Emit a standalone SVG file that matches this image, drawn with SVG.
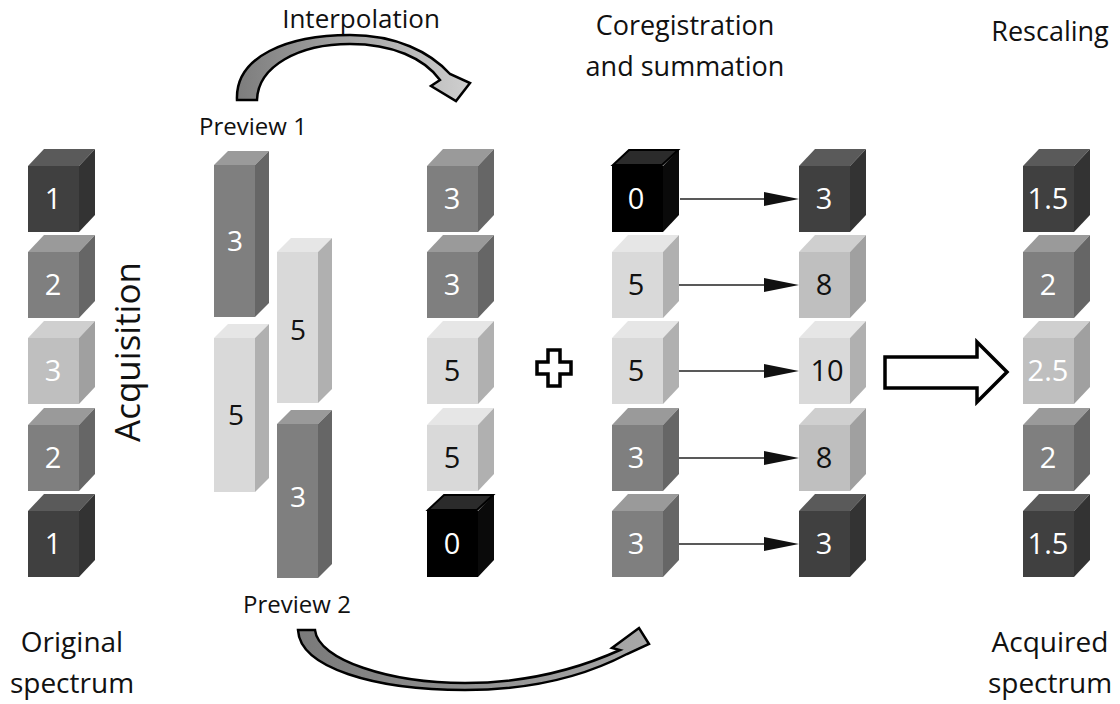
<svg xmlns="http://www.w3.org/2000/svg" width="1120" height="704" viewBox="0 0 1120 704">
<defs>
<style>
.lbl{font-family:"Open Sans","Liberation Sans",sans-serif;fill:#111}
.num{font-family:"Open Sans","Liberation Sans",sans-serif;font-size:29px;text-anchor:middle}
.bnum{font-family:"Open Sans","Liberation Sans",sans-serif;font-size:28px;text-anchor:middle}
.w{fill:#fff}.b{fill:#111}
.dk .f{fill:#404040}.dk .t{fill:#5a5a5a}.dk .r{fill:#333}
.md .f{fill:#7f7f7f}.md .t{fill:#9a9a9a}.md .r{fill:#666}
.lt .f{fill:#bfbfbf}.lt .t{fill:#cfcfcf}.lt .r{fill:#a0a0a0}
.vl .f{fill:#d9d9d9}.vl .t{fill:#e6e6e6}.vl .r{fill:#b0b0b0}
.bk .f{fill:#000}.bk .t{fill:#2b2b2b;stroke:#000;stroke-width:2}.bk .r{fill:#0a0a0a}
.conn line{stroke:#222;stroke-width:1.5}
.conn polygon.h{fill:#111}
</style>
<linearGradient id="g1" x1="0" y1="0" x2="1" y2="0">
<stop offset="0" stop-color="#7d7d7d"/><stop offset="1" stop-color="#cfcfcf"/>
</linearGradient>
<linearGradient id="g2" x1="0" y1="0" x2="1" y2="0">
<stop offset="0" stop-color="#7a7a7a"/><stop offset="1" stop-color="#a8a8a8"/>
</linearGradient>
</defs>
<rect width="1120" height="704" fill="#fff"/>

<!-- labels -->
<g id="labels">
<text class="lbl" x="361" y="28" font-size="26" text-anchor="middle">Interpolation</text>
<text class="lbl" x="253" y="135" font-size="24" text-anchor="middle">Preview 1</text>
<text class="lbl" x="297" y="613" font-size="24" text-anchor="middle">Preview 2</text>
<text class="lbl" x="685" y="35" font-size="27" text-anchor="middle">Coregistration</text>
<text class="lbl" x="685" y="76" font-size="27" text-anchor="middle">and summation</text>
<text class="lbl" x="1050" y="41" font-size="27" text-anchor="middle">Rescaling</text>
<text class="lbl" x="72" y="652" font-size="28" text-anchor="middle">Original</text>
<text class="lbl" x="72" y="693" font-size="28" text-anchor="middle">spectrum</text>
<text class="lbl" x="1050" y="652" font-size="28" text-anchor="middle">Acquired</text>
<text class="lbl" x="1050" y="693" font-size="28" text-anchor="middle">spectrum</text>
<text class="lbl" x="0" y="0" font-size="35" text-anchor="middle" transform="translate(140,352) rotate(-90)">Acquisition</text>
</g>

<!-- column 1: original -->
<g id="orig1" class="dk"><rect class="f" x="28" y="166" width="51" height="66"/><polygon class="t" points="28,166 44,149 95,149 79,166"/><polygon class="r" points="79,166 95,149 95,215 79,232"/><text class="num w" x="53" y="209">1</text></g>
<g id="orig2" class="md"><rect class="f" x="28" y="252" width="51" height="66"/><polygon class="t" points="28,252 44,235 95,235 79,252"/><polygon class="r" points="79,252 95,235 95,301 79,318"/><text class="num w" x="53" y="295">2</text></g>
<g id="orig3" class="lt"><rect class="f" x="28" y="338" width="51" height="66"/><polygon class="t" points="28,338 44,321 95,321 79,338"/><polygon class="r" points="79,338 95,321 95,387 79,404"/><text class="num w" x="53" y="381">3</text></g>
<g id="orig4" class="md"><rect class="f" x="28" y="425" width="51" height="66"/><polygon class="t" points="28,425 44,408 95,408 79,425"/><polygon class="r" points="79,425 95,408 95,474 79,491"/><text class="num w" x="53" y="468">2</text></g>
<g id="orig5" class="dk"><rect class="f" x="28" y="511" width="51" height="66"/><polygon class="t" points="28,511 44,494 95,494 79,511"/><polygon class="r" points="79,511 95,494 95,560 79,577"/><text class="num w" x="53" y="554">1</text></g>

<!-- previews -->
<g id="p1a" class="md"><rect class="f" x="214" y="165" width="41" height="152"/><polygon class="t" points="214,165 228,151 269,151 255,165"/><polygon class="r" points="255,165 269,151 269,303 255,317"/><text class="bnum w" x="235" y="251">3</text></g>
<g id="p1b" class="vl"><rect class="f" x="214" y="338" width="41" height="154"/><polygon class="t" points="214,338 228,324 269,324 255,338"/><polygon class="r" points="255,338 269,324 269,478 255,492"/><text class="bnum b" x="236" y="425">5</text></g>
<g id="p2a" class="vl"><rect class="f" x="277" y="252" width="41" height="151"/><polygon class="t" points="277,252 291,238 332,238 318,252"/><polygon class="r" points="318,252 332,238 332,389 318,403"/><text class="bnum b" x="298" y="340">5</text></g>
<g id="p2b" class="md"><rect class="f" x="277" y="424" width="41" height="154"/><polygon class="t" points="277,424 291,410 332,410 318,424"/><polygon class="r" points="318,424 332,410 332,564 318,578"/><text class="bnum w" x="298" y="507">3</text></g>

<!-- column 3: interpolated -->
<g id="i1" class="md"><rect class="f" x="427" y="166" width="51" height="66"/><polygon class="t" points="427,166 443,149 494,149 478,166"/><polygon class="r" points="478,166 494,149 494,215 478,232"/><text class="num w" x="452" y="209">3</text></g>
<g id="i2" class="md"><rect class="f" x="427" y="252" width="51" height="66"/><polygon class="t" points="427,252 443,235 494,235 478,252"/><polygon class="r" points="478,252 494,235 494,301 478,318"/><text class="num w" x="452" y="295">3</text></g>
<g id="i3" class="vl"><rect class="f" x="427" y="338" width="51" height="66"/><polygon class="t" points="427,338 443,321 494,321 478,338"/><polygon class="r" points="478,338 494,321 494,387 478,404"/><text class="num b" x="452" y="381">5</text></g>
<g id="i4" class="vl"><rect class="f" x="427" y="425" width="51" height="66"/><polygon class="t" points="427,425 443,408 494,408 478,425"/><polygon class="r" points="478,425 494,408 494,474 478,491"/><text class="num b" x="452" y="468">5</text></g>
<g id="i5" class="bk"><rect class="f" x="427" y="511" width="51" height="66"/><polygon class="r" points="478,511 494,494 494,560 478,577"/><polygon class="t" points="428,510 444,495 493,495 477,510"/><text class="num w" x="452" y="554">0</text></g>

<!-- plus -->
<g id="plus"><polygon points="548,350 560,350 560,362 571,362 571,374 560,374 560,386 548,386 548,374 537,374 537,362 548,362" fill="#fff" stroke="#000" stroke-width="3.5" stroke-linejoin="miter"/></g>

<!-- column 4: shifted -->
<g id="s1" class="bk"><rect class="f" x="612" y="166" width="51" height="66"/><polygon class="r" points="663,166 679,149 679,215 663,232"/><polygon class="t" points="613,165 629,150 678,150 662,165"/><text class="num w" x="636" y="209">0</text></g>
<g id="s2" class="vl"><rect class="f" x="612" y="252" width="51" height="66"/><polygon class="t" points="612,252 628,235 679,235 663,252"/><polygon class="r" points="663,252 679,235 679,301 663,318"/><text class="num b" x="636" y="295">5</text></g>
<g id="s3" class="vl"><rect class="f" x="612" y="338" width="51" height="66"/><polygon class="t" points="612,338 628,321 679,321 663,338"/><polygon class="r" points="663,338 679,321 679,387 663,404"/><text class="num b" x="636" y="381">5</text></g>
<g id="s4" class="md"><rect class="f" x="612" y="425" width="51" height="66"/><polygon class="t" points="612,425 628,408 679,408 663,425"/><polygon class="r" points="663,425 679,408 679,474 663,491"/><text class="num w" x="636" y="468">3</text></g>
<g id="s5" class="md"><rect class="f" x="612" y="511" width="51" height="66"/><polygon class="t" points="612,511 628,494 679,494 663,511"/><polygon class="r" points="663,511 679,494 679,560 663,577"/><text class="num w" x="636" y="554">3</text></g>

<!-- column 5: summed -->
<g id="u1" class="dk"><rect class="f" x="799" y="166" width="51" height="66"/><polygon class="t" points="799,166 815,149 866,149 850,166"/><polygon class="r" points="850,166 866,149 866,215 850,232"/><text class="num w" x="824" y="209">3</text></g>
<g id="u2" class="lt"><rect class="f" x="799" y="252" width="51" height="66"/><polygon class="t" points="799,252 815,235 866,235 850,252"/><polygon class="r" points="850,252 866,235 866,301 850,318"/><text class="num b" x="824" y="295">8</text></g>
<g id="u3" class="vl"><rect class="f" x="799" y="338" width="51" height="66"/><polygon class="t" points="799,338 815,321 866,321 850,338"/><polygon class="r" points="850,338 866,321 866,387 850,404"/><text class="num b" x="827" y="381">10</text></g>
<g id="u4" class="lt"><rect class="f" x="799" y="425" width="51" height="66"/><polygon class="t" points="799,425 815,408 866,408 850,425"/><polygon class="r" points="850,425 866,408 866,474 850,491"/><text class="num b" x="824" y="468">8</text></g>
<g id="u5" class="dk"><rect class="f" x="799" y="511" width="51" height="66"/><polygon class="t" points="799,511 815,494 866,494 850,511"/><polygon class="r" points="850,511 866,494 866,560 850,577"/><text class="num w" x="824" y="554">3</text></g>

<!-- column 6: acquired -->
<g id="a1" class="dk"><rect class="f" x="1023" y="166" width="51" height="66"/><polygon class="t" points="1023,166 1039,149 1090,149 1074,166"/><polygon class="r" points="1074,166 1090,149 1090,215 1074,232"/><text class="num w" x="1048" y="209" font-size="30">1.5</text></g>
<g id="a2" class="md"><rect class="f" x="1023" y="252" width="51" height="66"/><polygon class="t" points="1023,252 1039,235 1090,235 1074,252"/><polygon class="r" points="1074,252 1090,235 1090,301 1074,318"/><text class="num w" x="1048" y="295">2</text></g>
<g id="a3" class="lt"><rect class="f" x="1023" y="338" width="51" height="66"/><polygon class="t" points="1023,338 1039,321 1090,321 1074,338"/><polygon class="r" points="1074,338 1090,321 1090,387 1074,404"/><text class="num w" x="1048" y="381" font-size="30">2.5</text></g>
<g id="a4" class="md"><rect class="f" x="1023" y="425" width="51" height="66"/><polygon class="t" points="1023,425 1039,408 1090,408 1074,425"/><polygon class="r" points="1074,425 1090,408 1090,474 1074,491"/><text class="num w" x="1048" y="468">2</text></g>
<g id="a5" class="dk"><rect class="f" x="1023" y="511" width="51" height="66"/><polygon class="t" points="1023,511 1039,494 1090,494 1074,511"/><polygon class="r" points="1074,511 1090,494 1090,560 1074,577"/><text class="num w" x="1048" y="554" font-size="30">1.5</text></g>

<!-- connectors -->
<g id="connectors" class="conn">
<line x1="680" y1="199" x2="766" y2="199"/><polygon class="h" points="764,192 799,199 764,206"/>
<line x1="679" y1="285" x2="766" y2="285"/><polygon class="h" points="764,278 799,285 764,292"/>
<line x1="679" y1="371" x2="766" y2="371"/><polygon class="h" points="764,364 799,371 764,378"/>
<line x1="679" y1="458" x2="766" y2="458"/><polygon class="h" points="764,451 799,458 764,465"/>
<line x1="679" y1="544" x2="766" y2="544"/><polygon class="h" points="764,537 799,544 764,551"/>
<path d="M237,100 C235,56 288,35 350,35 C396,35 430,52 450,74 L470,83 L456,101 L431,86 L440,80 C424,58 392,44 350,44 C299,44 258,66 257,100 Z" fill="url(#g1)" stroke="#000" stroke-width="2.5" stroke-linejoin="miter"/>
<path d="M298,630 L315,630 C318,660 390,683 465,683 C530,683 580,668 620,650 L612,648 L639,628 L649,644 L627,654 C585,676 530,690 465,690 C375,690 300,668 298,630 Z" fill="url(#g2)" stroke="#000" stroke-width="2.5" stroke-linejoin="miter"/>
<polygon points="885,357 977,357 977,342 1007,372 977,402 977,388 885,388" fill="#fff" stroke="#000" stroke-width="3.5"/>
</g>
</svg>
